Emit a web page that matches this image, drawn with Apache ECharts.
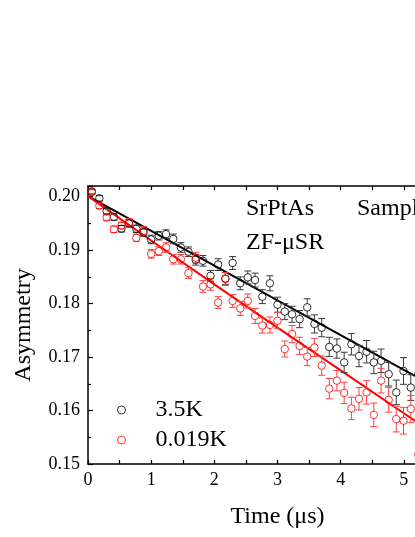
<!DOCTYPE html>
<html>
<head>
<meta charset="utf-8">
<script src="https://cdn.jsdelivr.net/npm/echarts@6/dist/echarts.min.js"></script>
<style>
  html, body { margin: 0; padding: 0; background: #fff; }
  #chart { width: 415px; height: 537px; }
</style>
</head>
<body>
<div id="chart"></div>
<script>
  // time bins (us)
  const time = [0.06, 0.18, 0.295, 0.41, 0.53, 0.65, 0.765, 0.88, 1.0, 1.12,
    1.235, 1.35, 1.47, 1.59, 1.705, 1.82, 1.94, 2.06, 2.175, 2.29,
    2.41, 2.53, 2.645, 2.76, 2.88, 3.0, 3.115, 3.23, 3.35, 3.47,
    3.585, 3.70, 3.82, 3.94, 4.055, 4.17, 4.29, 4.41, 4.525, 4.64,
    4.76, 4.88, 4.995, 5.11, 5.23]

  const asy35K = [0.2009, 0.1997, 0.1973, 0.1962, 0.1940, 0.1950, 0.1940, 0.1933, 0.1920, 0.1927,
    0.1930, 0.1921, 0.1905, 0.1897, 0.1882, 0.1880, 0.1852, 0.1873, 0.1847, 0.1876,
    0.1838, 0.1849, 0.1844, 0.1813, 0.1838, 0.1798, 0.1785, 0.1780, 0.1771, 0.1793,
    0.1762, 0.1755, 0.1719, 0.1716, 0.1690, 0.1724, 0.1702, 0.1710, 0.1690, 0.1693,
    0.1668, 0.1634, 0.1674, 0.1643, 0.1668]
  const err35K = [0.0004, 0.0005, 0.0005, 0.0006, 0.0006, 0.0007, 0.0007, 0.0007, 0.0008, 0.0008,
    0.0008, 0.0009, 0.0009, 0.0009, 0.0010, 0.0010, 0.0010, 0.0011, 0.0011, 0.0012,
    0.0012, 0.0012, 0.0013, 0.0013, 0.0014, 0.0014, 0.0015, 0.0015, 0.0016, 0.0016,
    0.0017, 0.0017, 0.0018, 0.0018, 0.0019, 0.0020, 0.0020, 0.0021, 0.0021, 0.0022,
    0.0022, 0.0023, 0.0025, 0.0024, 0.0025]

  const asy0019K = [0.2010, 0.1983, 0.1961, 0.1939, 0.1946, 0.1952, 0.1923, 0.1936, 0.1893, 0.1898,
    0.1905, 0.1883, 0.1883, 0.1857, 0.1886, 0.1832, 0.1836, 0.1802, 0.1846, 0.1805,
    0.1791, 0.1805, 0.1777, 0.1759, 0.1760, 0.1768, 0.1715, 0.1743, 0.1721, 0.1701,
    0.1718, 0.1684, 0.1641, 0.1656, 0.1633, 0.1604, 0.1622, 0.1634, 0.1592, 0.1656,
    0.1620, 0.1584, 0.1581, 0.1603, 0.1518]
  const err0019K = [0.0004, 0.0005, 0.0005, 0.0006, 0.0006, 0.0007, 0.0007, 0.0008, 0.0008, 0.0008,
    0.0009, 0.0009, 0.0009, 0.0010, 0.0010, 0.0011, 0.0011, 0.0011, 0.0012, 0.0012,
    0.0013, 0.0013, 0.0014, 0.0014, 0.0015, 0.0015, 0.0015, 0.0016, 0.0016, 0.0017,
    0.0017, 0.0018, 0.0019, 0.0019, 0.0020, 0.0021, 0.0021, 0.0022, 0.0022, 0.0023,
    0.0023, 0.0024, 0.0025, 0.0025, 0.0026]

  // fit curves
  const fitTime = [0, 1, 2, 3, 4, 5, 6]
  const fit35K = [0.2001, 0.1936, 0.1871, 0.1806, 0.1741, 0.1676, 0.1612]
  const fit0019K = [0.2001, 0.1918, 0.1836, 0.1755, 0.1675, 0.1595, 0.1516]

  const FONT = 'Liberation Serif'
  const R = 3.5

  function pts (xs, ys) {
    return xs.map((x, i) => [x, ys[i]])
  }

  function errBars (color) {
    return function (params, api) {
      const x = api.value(0)
      const y = api.value(1)
      const e = api.value(2)
      const c = api.coord([x, y])
      const top = api.coord([x, y + e])
      const bot = api.coord([x, y - e])
      const style = { stroke: color, lineWidth: 1 }
      const kids = []
      if (c[1] - R - top[1] > 0) {
        kids.push({ type: 'line', shape: { x1: c[0], y1: top[1], x2: c[0], y2: c[1] - R }, style })
      }
      if (bot[1] - c[1] - R > 0) {
        kids.push({ type: 'line', shape: { x1: c[0], y1: c[1] + R, x2: c[0], y2: bot[1] }, style })
      }
      kids.push({ type: 'line', shape: { x1: c[0] - 3.5, y1: top[1], x2: c[0] + 3.5, y2: top[1] }, style })
      kids.push({ type: 'line', shape: { x1: c[0] - 3.5, y1: bot[1], x2: c[0] + 3.5, y2: bot[1] }, style })
      return { type: 'group', children: kids }
    }
  }

  const axisCommon = {
    type: 'value',
    min: 0,
    max: 6,
    interval: 1,
    axisLine: { lineStyle: { color: '#000', width: 1.5 } },
    axisTick: { inside: true, length: 4, lineStyle: { color: '#000', width: 1.2 } },
    minorTick: { show: true, splitNumber: 2, length: 4, lineStyle: { color: '#000', width: 1.2 } },
    splitLine: { show: false }
  }

  const chart = echarts.init(document.getElementById('chart'))
  chart.setOption({
    animation: false,
    backgroundColor: '#fff',
    textStyle: { fontFamily: FONT, color: '#000' },
    grid: { left: 88, top: 186, right: -52, bottom: 73, outerBoundsMode: 'none' },
    xAxis: [
      Object.assign({}, axisCommon, {
        position: 'bottom',
        axisLabel: { color: '#000', fontFamily: FONT, fontSize: 18, margin: 7 },
        name: 'Time (μs)',
        nameLocation: 'middle',
        nameGap: 41,
        nameTextStyle: { color: '#000', fontFamily: FONT, fontSize: 24 }
      }),
      Object.assign({}, axisCommon, {
        position: 'top',
        axisLabel: { show: false }
      })
    ],
    yAxis: {
      type: 'value',
      min: 0.15,
      max: 0.202,
      interval: 0.01,
      axisLine: { lineStyle: { color: '#000', width: 1.5 } },
      axisTick: { inside: true, length: 5, lineStyle: { color: '#000', width: 1.2 } },
      minorTick: { show: true, splitNumber: 2, length: 3, lineStyle: { color: '#000', width: 1.2 } },
      splitLine: { show: false },
      axisLabel: {
        color: '#000', fontFamily: FONT, fontSize: 18, margin: 8,
        showMaxLabel: false,
        formatter: v => v.toFixed(2)
      },
      name: 'Asymmetry',
      nameLocation: 'middle',
      nameGap: 52,
      nameTextStyle: { color: '#000', fontFamily: FONT, fontSize: 24 }
    },
    legend: {
      orient: 'vertical',
      left: 112,
      top: 393,
      itemWidth: 8,
      itemHeight: 8,
      itemGap: 6,
      textStyle: { fontFamily: FONT, fontSize: 24, color: '#000', lineHeight: 24, padding: [0, 0, 0, 25] },
      data: [
        { name: '3.5K', icon: 'circle', itemStyle: { color: 'rgba(0,0,0,0)', borderColor: '#000', borderWidth: 1 } },
        { name: '0.019K', icon: 'circle', itemStyle: { color: 'rgba(0,0,0,0)', borderColor: '#ff0000', borderWidth: 1 } }
      ]
    },
    graphic: [
      { type: 'text', left: 246, top: 197, style: { text: 'SrPtAs', font: '24px "Liberation Serif"', fill: '#000' } },
      { type: 'text', left: 357, top: 197, style: { text: 'Sample', font: '24px "Liberation Serif"', fill: '#000' } },
      { type: 'text', left: 246, top: 231, style: { text: 'ZF-μSR', font: '24px "Liberation Serif"', fill: '#000' } }
    ],
    series: [
      {
        name: 'fit 3.5K', type: 'line', data: pts(fitTime, fit35K), showSymbol: false,
        lineStyle: { color: '#000', width: 2 }, z: 1, silent: true
      },
      {
        name: 'fit 0.019K', type: 'line', data: pts(fitTime, fit0019K), showSymbol: false,
        lineStyle: { color: '#ff0000', width: 2 }, z: 1, silent: true
      },
      {
        name: 'err 3.5K', type: 'custom', renderItem: errBars('#3a3a3a'),
        data: time.map((t, i) => [t, asy35K[i], err35K[i]]), z: 2, clip: true
      },
      {
        name: 'err 0.019K', type: 'custom', renderItem: errBars('#ff4040'),
        data: time.map((t, i) => [t, asy0019K[i], err0019K[i]]), z: 2, clip: true
      },
      {
        name: '3.5K', type: 'scatter', data: pts(time, asy35K), symbol: 'circle', symbolSize: 7.5,
        itemStyle: { color: 'rgba(0,0,0,0)', borderColor: '#000', borderWidth: 1 }, z: 3
      },
      {
        name: '0.019K', type: 'scatter', data: pts(time, asy0019K), symbol: 'circle', symbolSize: 7.5,
        itemStyle: { color: 'rgba(0,0,0,0)', borderColor: '#ff0000', borderWidth: 1 }, z: 3
      }
    ]
  })
</script>
</body>
</html>
